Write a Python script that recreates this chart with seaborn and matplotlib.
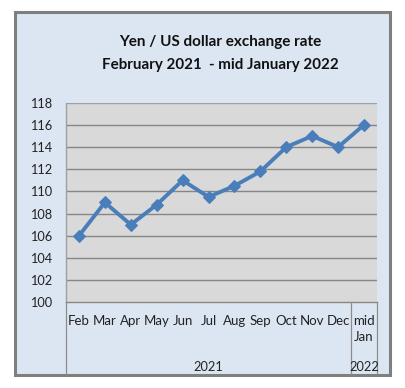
import matplotlib
matplotlib.use("Agg")
import matplotlib.pyplot as plt
import seaborn as sns
import pandas as pd
from matplotlib.patches import Rectangle
from matplotlib.lines import Line2D

months = ["Feb", "Mar", "Apr", "May", "Jun", "Jul", "Aug", "Sep", "Oct", "Nov", "Dec", "mid\nJan"]
rates = [106.0, 109.0, 107.0, 108.8, 111.0, 109.5, 110.5, 111.8, 114.0, 115.0, 114.0, 116.0]
years = ["2021", "2022"]
yticks = [100, 102, 104, 106, 108, 110, 112, 114, 116, 118]

df = pd.DataFrame({"x": range(len(months)), "rate": rates})

sns.set_style("white")
plt.rcParams['font.family'] = ['Lato', 'DejaVu Sans']

W, H = 405, 388
fig = plt.figure(figsize=(W / 100, H / 100), dpi=100)
fig.patch.set_facecolor("white")

def fx(px):
    return px / W

def fy(py):
    return 1 - py / H

# outer frame
fig.patches.append(Rectangle((fx(15), fy(375)), fx(390) - fx(15), fy(12) - fy(375),
                             transform=fig.transFigure, facecolor="#dce6f2",
                             edgecolor="#7f7f7f", linewidth=2.2, zorder=-5))

L, R, T, B = 66, 377, 102.7, 302.3
ax = fig.add_axes([fx(L), fy(B), fx(R) - fx(L), fy(T) - fy(B)])
ax.set_zorder(2)
ax.set_facecolor("#d9d9d9")

sns.lineplot(data=df, x="x", y="rate", ax=ax, color="#4a7ebb", linewidth=2.8,
             marker="D", markersize=6.5, markeredgecolor="#4a7ebb", zorder=3)

ax.set_xlim(-0.5, len(months) - 0.5)
ax.set_ylim(100, 118)
ax.set_yticks(yticks)
ax.set_yticklabels([str(v) for v in yticks], fontsize=9.2, color="#222222")
ax.tick_params(axis="y", length=0, pad=10)
for v in yticks[1:-1]:
    ax.axhline(v, color="#868686", linewidth=1.0, zorder=0.5)
ax.axhline(118, color="#a0a0a0", linewidth=1.0, zorder=0.5)
ax.set_xticks([])
ax.set_xlabel("")
ax.set_ylabel("")
for s in ["top", "right"]:
    ax.spines[s].set_visible(False)
ax.spines["left"].set_color("#a0a0a0")
ax.spines["left"].set_linewidth(1.0)
ax.spines["bottom"].set_color("#868686")
ax.spines["bottom"].set_linewidth(1.0)

# category labels
for i, m in enumerate(months):
    xf = fx(L) + (i + 0.5) / len(months) * (fx(R) - fx(L))
    fig.text(xf, fy(315), m, ha="center", va="top", fontsize=9.5, color="#222222",
             linespacing=1.4)

# year labels
seg = (fx(R) - fx(L)) / len(months)
fig.text(fx(L) + 5.5 * seg, fy(367), years[0], ha="center", va="center", fontsize=9.2, color="#222222")
fig.text(fx(L) + 11.5 * seg, fy(367), years[1], ha="center", va="center", fontsize=9.2, color="#222222")

# category separators
for xp in [L, L + 11 * (R - L) / len(months), R]:
    fig.lines.append(Line2D([fx(xp), fx(xp)], [fy(B), fy(374)], transform=fig.transFigure,
                            color="#8c8c8c", linewidth=0.9))

# title
fig.text(fx(220), fy(42), "Yen / US dollar exchange rate", ha="center", va="center",
         fontsize=11, fontweight="bold", color="#111111")
fig.text(fx(220), fy(65), "February 2021  - mid January 2022", ha="center", va="center",
         fontsize=10.9, fontweight="bold", color="#111111")

fig.savefig("out.png", dpi=100, facecolor="white")
